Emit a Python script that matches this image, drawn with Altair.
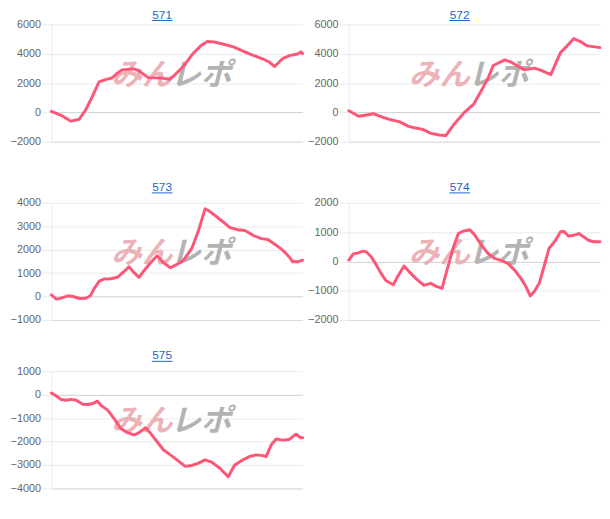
import altair as alt
import pandas as pd

# ---- data (x position 0-100 along each panel, cumulative value) ----
names = ["571", "572", "573", "574", "575"]

t571 = [0, 3.9, 7.8, 11.1, 13.7, 16.3, 19.0, 21.6, 24.2, 26.1, 28.1, 32.7, 34.6, 38.6, 43.8, 47.1, 49.0,
        52.9, 56.2, 59.5, 62.1, 64.7, 68.6, 72.5, 75.2, 79.1, 84.3, 86.9, 88.9, 92.2, 94.8, 98.0, 99.3, 100]
v571 = [70, -200, -600, -470, 180, 1070, 2080, 2230, 2350, 2640, 2900, 2970, 2860, 2370, 2350, 2260, 2530,
        3200, 3980, 4540, 4830, 4810, 4650, 4470, 4270, 3980, 3640, 3420, 3130, 3690, 3870, 3980, 4130, 4000]

t572 = [0, 3.9, 6.5, 9.8, 13.1, 16.3, 20.3, 23.5, 26.1, 29.4, 32.7, 35.9, 38.6, 41.8, 45.8, 49.7, 52.9,
        55.6, 57.5, 62.1, 64.7, 68.0, 69.9, 73.9, 76.5, 80.4, 84.3, 86.9, 89.5, 92.2, 94.8, 98.0, 100]
v572 = [110, -270, -200, -90, -310, -490, -650, -940, -1050, -1160, -1430, -1540, -1580, -830, -40, 560, 1520,
        2410, 3200, 3580, 3420, 3080, 2900, 3020, 2860, 2570, 4090, 4540, 5030, 4830, 4540, 4470, 4420]

t573 = [0, 2.0, 3.9, 6.6, 8.6, 11.2, 13.8, 15.5, 17.1, 19.1, 21.1, 23.7, 26.3, 28.9, 30.9, 32.9, 34.9, 36.8,
        39.5, 42.1, 44.7, 47.4, 50.0, 52.6, 55.9, 58.6, 61.2, 62.5, 65.1, 68.4, 71.1, 74.3, 77.0, 80.3, 83.6,
        86.2, 89.5, 92.1, 94.7, 96.1, 98.0, 100]
v573 = [70, -110, -70, 30, 0, -85, -70, 30, 350, 660, 750, 760, 820, 1060, 1270, 1020, 820, 1090,
        1440, 1740, 1440, 1230, 1370, 1550, 2050, 2820, 3740, 3670, 3460, 3180, 2940, 2850, 2820, 2610, 2470,
        2430, 2190, 1980, 1690, 1480, 1480, 1550]

t574 = [0, 1.7, 3.7, 5.6, 6.9, 8.9, 10.9, 12.8, 14.8, 17.7, 19.4, 22.0, 24.0, 26.6, 29.9, 32.5, 35.1, 37.1,
        39.1, 41.7, 43.6, 45.6, 48.2, 50.2, 52.8, 55.4, 58.1, 61.3, 63.3, 65.9, 68.5, 70.5, 72.2, 73.8, 75.8,
        77.7, 79.7, 82.3, 84.3, 85.6, 87.5, 89.5, 91.5, 93.4, 95.4, 97.4, 100]
v574 = [45, 250, 290, 350, 330, 160, -120, -410, -660, -800, -520, -160, -350, -580, -820, -750, -860, -920,
        -290, 500, 950, 1030, 1080, 890, 550, 270, 100, 10, -70, -290, -580, -860, -1180, -1030, -750,
        -180, 440, 720, 1010, 1030, 860, 890, 950, 840, 720, 670, 670]

t575 = [0, 2.0, 3.9, 5.9, 7.9, 9.9, 12.5, 14.5, 16.4, 18.4, 19.7, 22.4, 25.0, 27.6, 30.3, 32.9, 34.9, 37.5,
        39.5, 42.1, 44.7, 47.4, 50.0, 53.3, 55.9, 58.6, 61.2, 63.8, 67.1, 70.4, 73.0, 76.3, 78.9, 81.6, 84.2,
        85.5, 87.5, 89.5, 92.1, 94.7, 97.4, 99.3, 100]
v575 = [70, -60, -210, -240, -200, -240, -410, -420, -380, -280, -450, -660, -1020, -1440, -1620, -1720, -1620,
        -1410, -1650, -2010, -2360, -2570, -2780, -3060, -3020, -2920, -2780, -2880, -3140, -3500, -3000, -2780,
        -2640, -2570, -2600, -2640, -2150, -1890, -1940, -1910, -1690, -1840, -1840]

y_domains = {"571": [-2000, 6000], "572": [-2000, 6000], "573": [-1000, 4000],
             "574": [-2000, 2000], "575": [-4000, 1000]}
y_steps = {"571": 2000, "572": 2000, "573": 1000, "574": 1000, "575": 1000}
series = {"571": (t571, v571), "572": (t572, v572), "573": (t573, v573),
          "574": (t574, v574), "575": (t575, v575)}

W, H = 255, 119
LINE = "#ff5577"
FONT = "Liberation Sans"


def panel(name, title_y):
    t, v = series[name]
    dom = y_domains[name]
    step = y_steps[name]
    df = pd.DataFrame({"t": t, "v": v})
    line = alt.Chart(df).mark_line(
        color=LINE, strokeWidth=3, strokeJoin="round", strokeCap="round"
    ).encode(
        x=alt.X("t:Q", scale=alt.Scale(domain=[0, 100], nice=False, zero=False),
                axis=alt.Axis(labels=False, ticks=False, grid=False, title=None,
                              domainColor="#d9d9d9", domainWidth=1)),
        y=alt.Y("v:Q", scale=alt.Scale(domain=dom, nice=False),
                axis=alt.Axis(values=list(range(dom[0], dom[1] + 1, step)), title=None, format="d",
                              labelFont=FONT, labelFontSize=11, labelColor="#666666",
                              labelPadding=1, tickSize=10, tickColor="#ebebeb",
                              domainColor="#ebebeb",
                              gridColor={"condition": {"test": "datum.value === 0", "value": "#d0d0d0"},
                                         "value": "#ebebeb"})),
    )
    wm = pd.DataFrame({"w": ["みん", "レポ"], "c": ["#ebb3b8", "#b3b3b3"], "px": [92, 152]})
    water = alt.Chart(wm).mark_text(
        font="Noto Sans CJK JP", fontSize=31, fontWeight="bold", fontStyle="italic", baseline="middle"
    ).encode(text="w:N", x=alt.X("px:Q", scale=None), y=alt.value(52),
             color=alt.Color("c:N", scale=None))
    tdf = pd.DataFrame({"label": [name]})
    cx = W / 2 - 15
    title = alt.Chart(tdf).mark_text(
        font=FONT, fontSize=12, color="#1a66cc", baseline="alphabetic", align="center"
    ).encode(text="label:N", x=alt.value(cx), y=alt.value(title_y))
    underline = alt.Chart(tdf).mark_rule(color="#1a66cc", strokeWidth=1).encode(
        x=alt.value(cx - 10.5), x2=alt.value(cx + 10.5), y=alt.value(title_y + 2))
    return alt.layer(water, line, title, underline).properties(width=W, height=H)


row1 = alt.hconcat(panel("571", -6), panel("572", -6), spacing=3)
row2 = alt.hconcat(panel("573", -12), panel("574", -12), spacing=3)
row3 = alt.hconcat(panel("575", -12), spacing=3)
lower = alt.vconcat(row2, row3, spacing=25)
chart = alt.vconcat(row1, lower, spacing=35).properties(
    padding={"left": 2, "top": -3, "right": 0, "bottom": 0}, background="white"
).configure_view(stroke=None)

chart.save("out.html", embed_options={"renderer": "svg", "actions": False})
